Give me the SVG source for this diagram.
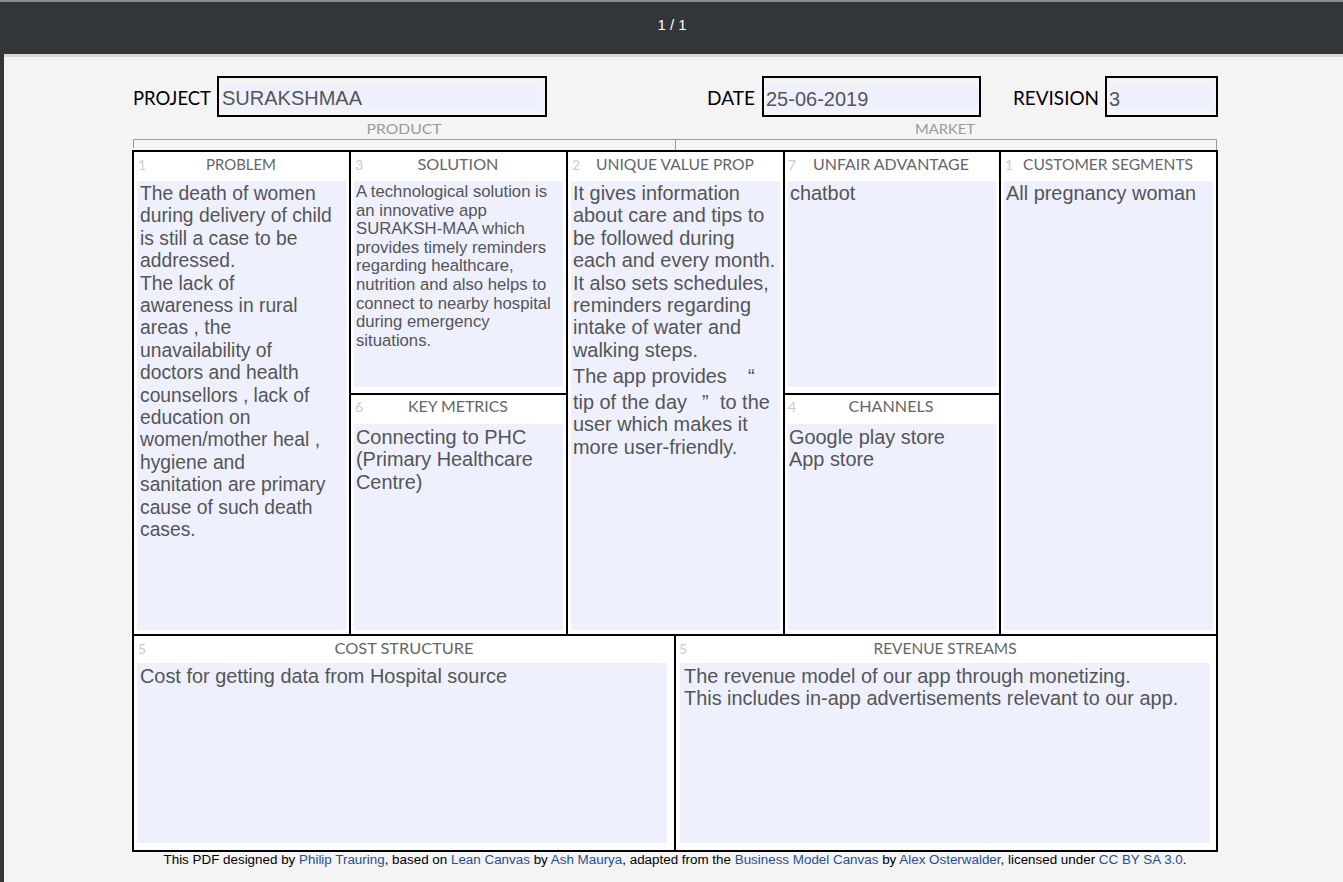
<svg xmlns="http://www.w3.org/2000/svg" width="1343" height="882" viewBox="0 0 1343 882">
<style>
.cell{fill:#ffffff;stroke:#000000;stroke-width:2}
.area{fill:#eef1fd}
.ttl{font-family:Lato,"Open Sans","Liberation Sans",sans-serif;font-size:15px;fill:#666666;text-anchor:middle}
.num{font-family:Lato,"Liberation Sans",sans-serif;font-size:14px;fill:#cccccc}
.body{font-family:"Liberation Sans",Arial,sans-serif;font-size:19.9px;fill:#555555}
.prob{font-family:"Liberation Sans",Arial,sans-serif;font-size:19.3px;fill:#555555}
.small{font-family:"Liberation Sans",Arial,sans-serif;font-size:16.7px;fill:#555555}
.hdr{font-family:Lato,"Open Sans","Liberation Sans",sans-serif;font-size:19px;fill:#000000}
.hval{font-family:"Liberation Sans",Arial,sans-serif;font-size:20px;fill:#555555}
.hbox{fill:#f4f4f4;stroke:#000000;stroke-width:2}
.sec{font-family:Lato,"Open Sans","Liberation Sans",sans-serif;font-size:14px;fill:#999999;text-anchor:middle}
.lnk{fill:#1d4f91}
</style>
<rect x="0" y="0" width="1343" height="882" fill="#f4f4f4"/>
<g id="viewer-bar">
<rect x="0" y="0" width="1343" height="54" fill="#323639"/>
<rect x="0" y="0" width="1343" height="2" fill="#8a8c8e"/>
<rect x="0" y="54" width="1343" height="3" fill="#d8d8d8"/>
<rect x="0" y="54" width="4" height="828" fill="#323639"/>
<text x="672" y="30" font-family="Liberation Sans, Arial, sans-serif" font-size="15" fill="#ffffff" text-anchor="middle">1 / 1</text>
</g>
<g id="header">
<text class="hdr" x="133" y="105" textLength="78" lengthAdjust="spacingAndGlyphs">PROJECT</text>
<rect class="hbox" x="218" y="77" width="328" height="39"/>
<rect class="area" x="221" y="86" width="322" height="24"/>
<text class="hval" x="222" y="105">SURAKSHMAA</text>
<text class="hdr" x="707" y="105" textLength="48" lengthAdjust="spacingAndGlyphs">DATE</text>
<rect class="hbox" x="763" y="77" width="217" height="39"/>
<rect class="area" x="766" y="86" width="211" height="24"/>
<text class="hval" x="766" y="106">25-06-2019</text>
<text class="hdr" x="1013" y="105" textLength="86" lengthAdjust="spacingAndGlyphs">REVISION</text>
<rect class="hbox" x="1106" y="77" width="111" height="39"/>
<rect class="area" x="1109" y="86" width="105" height="24"/>
<text class="hval" x="1109" y="106">3</text>
</g>
<g id="sections">
<text class="sec" x="404" y="134" textLength="75" lengthAdjust="spacingAndGlyphs">PRODUCT</text>
<text class="sec" x="945" y="134" textLength="60" lengthAdjust="spacingAndGlyphs">MARKET</text>
<path d="M133.5,148 V139.5 H1216.5 V150 M675.5,139.5 V150" fill="none" stroke="#999999" stroke-width="1"/>
</g>
<g id="problem">
<rect class="cell" x="133" y="151" width="217" height="484"/>
<rect class="area" x="137" y="181" width="209" height="449"/>
<text class="num" x="138" y="170">1</text>
<text class="ttl" x="241" y="170" textLength="70" lengthAdjust="spacingAndGlyphs">PROBLEM</text>
<text class="prob" x="140" y="200">
<tspan x="140" y="200">The death of women</tspan>
<tspan x="140" y="222.4">during delivery of child</tspan>
<tspan x="140" y="244.8">is still a case to be</tspan>
<tspan x="140" y="267.2">addressed.</tspan>
<tspan x="140" y="289.6">The lack of</tspan>
<tspan x="140" y="312">awareness in rural</tspan>
<tspan x="140" y="334.4">areas , the</tspan>
<tspan x="140" y="356.8">unavailability of</tspan>
<tspan x="140" y="379.2">doctors and health</tspan>
<tspan x="140" y="401.6">counsellors , lack of</tspan>
<tspan x="140" y="424">education on</tspan>
<tspan x="140" y="446.4">women/mother heal ,</tspan>
<tspan x="140" y="468.8">hygiene and</tspan>
<tspan x="140" y="491.2">sanitation are primary</tspan>
<tspan x="140" y="513.6">cause of such death</tspan>
<tspan x="140" y="536">cases.</tspan>
</text>
</g>
<g id="solution">
<rect class="cell" x="350" y="151" width="217" height="243"/>
<rect class="area" x="354" y="181" width="209" height="206"/>
<text class="num" x="355" y="170">3</text>
<text class="ttl" x="458" y="170" textLength="81" lengthAdjust="spacingAndGlyphs">SOLUTION</text>
<text class="small" x="356" y="197">
<tspan x="356" y="197">A technological solution is</tspan>
<tspan x="356" y="215.6">an innovative app</tspan>
<tspan x="356" y="234.2">SURAKSH-MAA which</tspan>
<tspan x="356" y="252.8">provides timely reminders</tspan>
<tspan x="356" y="271.4">regarding healthcare,</tspan>
<tspan x="356" y="290">nutrition and also helps to</tspan>
<tspan x="356" y="308.6">connect to nearby hospital</tspan>
<tspan x="356" y="327.2">during emergency</tspan>
<tspan x="356" y="345.8">situations.</tspan>
</text>
</g>
<g id="key-metrics">
<rect class="cell" x="350" y="394" width="217" height="241"/>
<rect class="area" x="354" y="424" width="209" height="206"/>
<text class="num" x="355" y="412">6</text>
<text class="ttl" x="458" y="412" textLength="100" lengthAdjust="spacingAndGlyphs">KEY METRICS</text>
<text class="body" x="356" y="444">
<tspan x="356" y="444">Connecting to PHC</tspan>
<tspan x="356" y="466.4">(Primary Healthcare</tspan>
<tspan x="356" y="488.8">Centre)</tspan>
</text>
</g>
<g id="unique-value-prop">
<rect class="cell" x="567" y="151" width="217" height="484"/>
<rect class="area" x="571" y="181" width="209" height="449"/>
<text class="num" x="572" y="170">2</text>
<text class="ttl" x="675" y="170" textLength="158" lengthAdjust="spacingAndGlyphs">UNIQUE VALUE PROP</text>
<text class="body" x="573" y="200">
<tspan x="573" y="200">It gives information</tspan>
<tspan x="573" y="222.4">about care and tips to</tspan>
<tspan x="573" y="244.8">be followed during</tspan>
<tspan x="573" y="267.2">each and every month.</tspan>
<tspan x="573" y="289.6">It also sets schedules,</tspan>
<tspan x="573" y="312">reminders regarding</tspan>
<tspan x="573" y="334.4">intake of water and</tspan>
<tspan x="573" y="356.8">walking steps.</tspan>
<tspan x="573" y="383">The app provides</tspan><tspan x="748" y="383">“</tspan>
<tspan x="573" y="409">tip of the day</tspan><tspan x="702" y="409">”</tspan><tspan x="720" y="409">to the</tspan>
<tspan x="573" y="431.4">user which makes it</tspan>
<tspan x="573" y="453.8">more user-friendly.</tspan>
</text>
</g>
<g id="unfair-advantage">
<rect class="cell" x="784" y="151" width="216" height="243"/>
<rect class="area" x="788" y="181" width="208" height="206"/>
<text class="num" x="788" y="170">7</text>
<text class="ttl" x="891" y="170" textLength="156" lengthAdjust="spacingAndGlyphs">UNFAIR ADVANTAGE</text>
<text class="body" x="790" y="200">chatbot</text>
</g>
<g id="channels">
<rect class="cell" x="784" y="394" width="216" height="241"/>
<rect class="area" x="788" y="424" width="208" height="206"/>
<text class="num" x="788" y="412">4</text>
<text class="ttl" x="891" y="412" textLength="85" lengthAdjust="spacingAndGlyphs">CHANNELS</text>
<text class="body" x="789" y="444">
<tspan x="789" y="444">Google play store</tspan>
<tspan x="789" y="466.4">App store</tspan>
</text>
</g>
<g id="customer-segments">
<rect class="cell" x="1000" y="151" width="217" height="484"/>
<rect class="area" x="1004" y="181" width="209" height="449"/>
<text class="num" x="1005" y="170">1</text>
<text class="ttl" x="1108" y="170" textLength="170" lengthAdjust="spacingAndGlyphs">CUSTOMER SEGMENTS</text>
<text class="body" x="1006" y="200">All pregnancy woman</text>
</g>
<g id="cost-structure">
<rect class="cell" x="133" y="635" width="542" height="216"/>
<rect class="area" x="137" y="663" width="530" height="180"/>
<text class="num" x="138" y="654">5</text>
<text class="ttl" x="404" y="654" textLength="139" lengthAdjust="spacingAndGlyphs">COST STRUCTURE</text>
<text class="body" x="140" y="683">Cost for getting data from Hospital source</text>
</g>
<g id="revenue-streams">
<rect class="cell" x="675" y="635" width="542" height="216"/>
<rect class="area" x="680" y="663" width="530" height="180"/>
<text class="num" x="679" y="654">5</text>
<text class="ttl" x="945" y="654" textLength="143" lengthAdjust="spacingAndGlyphs">REVENUE STREAMS</text>
<text class="body" x="684" y="683">
<tspan x="684" y="683">The revenue model of our app through monetizing.</tspan>
<tspan x="684" y="705.4">This includes in-app advertisements relevant to our app.</tspan>
</text>
</g>
<g id="connectors"></g>
<g id="footer">
<text x="675" y="864" font-family="Liberation Sans, Arial, sans-serif" font-size="12" fill="#000000" text-anchor="middle" textLength="1023" lengthAdjust="spacingAndGlyphs">This PDF designed by <tspan class="lnk">Philip Trauring</tspan>, based on <tspan class="lnk">Lean Canvas</tspan> by <tspan class="lnk">Ash Maurya</tspan>, adapted from the <tspan class="lnk">Business Model Canvas</tspan> by <tspan class="lnk">Alex Osterwalder</tspan>, licensed under <tspan class="lnk">CC BY SA 3.0</tspan>.</text>
</g>
</svg>
